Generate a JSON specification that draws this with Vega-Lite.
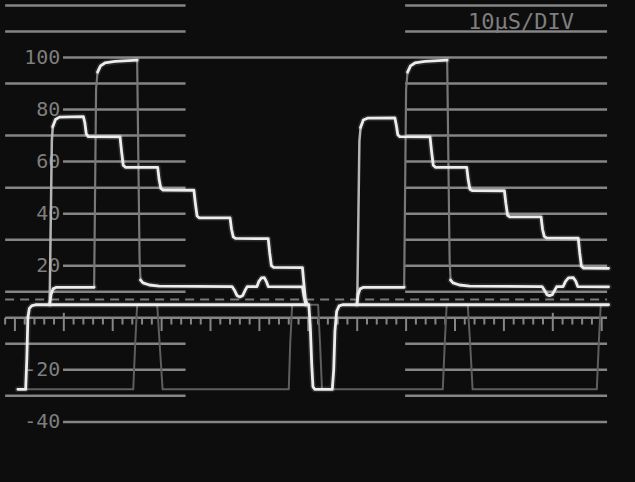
{
  "$schema": "https://vega.github.io/schema/vega-lite/v6.json",
  "width": 635,
  "height": 482,
  "autosize": {"type": "fit", "contains": "padding"},
  "padding": 0,
  "background": "#0d0d0d",
  "config": {"view": {"stroke": null}},
  "datasets": {
    "hl": [
      {"v": 120, "a": -12.0, "b": 24.9}, {"v": 110, "a": -12.0, "b": 24.9}, {"v": 90, "a": -12.0, "b": 24.9},
      {"v": 70, "a": -12.0, "b": 24.9}, {"v": 50, "a": -12.0, "b": 24.9}, {"v": 30, "a": -12.0, "b": 24.9},
      {"v": 10, "a": -12.0, "b": 24.9}, {"v": -10, "a": -12.0, "b": 24.9}, {"v": -30, "a": -12.0, "b": 24.9},
      {"v": 80, "a": -0.16, "b": 24.9}, {"v": 60, "a": -0.16, "b": 24.9}, {"v": 40, "a": -0.16, "b": 24.9},
      {"v": 20, "a": -0.16, "b": 24.9}, {"v": -20, "a": -0.16, "b": 24.9},
      {"v": 120, "a": 69.8, "b": 111.1}, {"v": 110, "a": 69.8, "b": 111.1}, {"v": 90, "a": 69.8, "b": 111.1},
      {"v": 80, "a": 69.8, "b": 111.1}, {"v": 70, "a": 69.8, "b": 111.1}, {"v": 60, "a": 69.8, "b": 111.1},
      {"v": 50, "a": 69.8, "b": 111.1}, {"v": 40, "a": 69.8, "b": 111.1}, {"v": 30, "a": 69.8, "b": 111.1},
      {"v": 20, "a": 69.8, "b": 111.1}, {"v": 10, "a": 69.8, "b": 111.1}, {"v": -10, "a": 69.8, "b": 111.1},
      {"v": -20, "a": 69.8, "b": 111.1}, {"v": -30, "a": 69.8, "b": 111.1},
      {"v": 100, "a": -0.16, "b": 111.1}, {"v": -40, "a": -0.16, "b": 111.1},
      {"v": 0, "a": -12.0, "b": 111.1}
    ],
    "tk": [
      {"t": -12, "k": "minor"}, {"t": -8, "k": "minor"}, {"t": -6, "k": "minor"}, {"t": -4, "k": "minor"}, {"t": -2, "k": "minor"},
      {"t": 2, "k": "minor"}, {"t": 4, "k": "minor"}, {"t": 6, "k": "minor"}, {"t": 8, "k": "minor"},
      {"t": 12, "k": "minor"}, {"t": 14, "k": "minor"}, {"t": 16, "k": "minor"}, {"t": 18, "k": "minor"},
      {"t": 22, "k": "minor"}, {"t": 24, "k": "minor"}, {"t": 26, "k": "minor"}, {"t": 28, "k": "minor"},
      {"t": 32, "k": "minor"}, {"t": 34, "k": "minor"}, {"t": 36, "k": "minor"}, {"t": 38, "k": "minor"},
      {"t": 42, "k": "minor"}, {"t": 44, "k": "minor"}, {"t": 46, "k": "minor"}, {"t": 48, "k": "minor"},
      {"t": 52, "k": "minor"}, {"t": 54, "k": "minor"}, {"t": 56, "k": "minor"}, {"t": 58, "k": "minor"},
      {"t": 62, "k": "minor"}, {"t": 64, "k": "minor"}, {"t": 66, "k": "minor"}, {"t": 68, "k": "minor"},
      {"t": 72, "k": "minor"}, {"t": 74, "k": "minor"}, {"t": 76, "k": "minor"}, {"t": 78, "k": "minor"},
      {"t": 82, "k": "minor"}, {"t": 84, "k": "minor"}, {"t": 86, "k": "minor"}, {"t": 88, "k": "minor"},
      {"t": 92, "k": "minor"}, {"t": 94, "k": "minor"}, {"t": 96, "k": "minor"}, {"t": 98, "k": "minor"},
      {"t": 102, "k": "minor"}, {"t": 104, "k": "minor"}, {"t": 106, "k": "minor"}, {"t": 108, "k": "minor"},
      {"t": -10, "k": "major"}, {"t": 10, "k": "major"}, {"t": 20, "k": "major"}, {"t": 30, "k": "major"},
      {"t": 40, "k": "major"}, {"t": 50, "k": "major"}, {"t": 60, "k": "major"}, {"t": 70, "k": "major"},
      {"t": 80, "k": "major"}, {"t": 90, "k": "major"}, {"t": 110, "k": "major"},
      {"t": 0, "k": "tall"}, {"t": 100, "k": "tall"}
    ],
    "lb": [
      {"v": 100, "txt": "100"}, {"v": 80, "txt": "80"}, {"v": 60, "txt": "60"}, {"v": 40, "txt": "40"},
      {"v": 20, "txt": "20"}, {"v": -20, "txt": "-20"}, {"v": -40, "txt": "-40"}
    ],
    "tr": [
      {"s": "gh", "o": 1, "t": -7.5, "v": -27.5, "k": "gh"},
      {"s": "gh", "o": 2, "t": 14.2, "v": -27.5, "k": "gh"},
      {"s": "gh", "o": 3, "t": 14.6, "v": -10, "k": "gh"},
      {"s": "gh", "o": 4, "t": 15.0, "v": 5, "k": "gh"},
      {"s": "gh", "o": 5, "t": 19.1, "v": 5, "k": "gh"},
      {"s": "gh", "o": 6, "t": 19.6, "v": -10, "k": "gh"},
      {"s": "gh", "o": 7, "t": 20.2, "v": -27.5, "k": "gh"},
      {"s": "gh", "o": 8, "t": 46.0, "v": -27.5, "k": "gh"},
      {"s": "gh", "o": 9, "t": 46.3, "v": -10, "k": "gh"},
      {"s": "gh", "o": 10, "t": 46.7, "v": 5, "k": "gh"},
      {"s": "gh", "o": 11, "t": 52.0, "v": 5, "k": "gh"},
      {"s": "gh", "o": 12, "t": 52.4, "v": -10, "k": "gh"},
      {"s": "gh", "o": 13, "t": 52.8, "v": -27.5, "k": "gh"},
      {"s": "gh", "o": 14, "t": 77.5, "v": -27.5, "k": "gh"},
      {"s": "gh", "o": 15, "t": 77.9, "v": -10, "k": "gh"},
      {"s": "gh", "o": 16, "t": 78.3, "v": 5, "k": "gh"},
      {"s": "gh", "o": 17, "t": 82.6, "v": 5, "k": "gh"},
      {"s": "gh", "o": 18, "t": 83.1, "v": -10, "k": "gh"},
      {"s": "gh", "o": 19, "t": 83.6, "v": -27.5, "k": "gh"},
      {"s": "gh", "o": 20, "t": 109.0, "v": -27.5, "k": "gh"},
      {"s": "gh", "o": 21, "t": 109.4, "v": -10, "k": "gh"},
      {"s": "gh", "o": 22, "t": 109.8, "v": 5, "k": "gh"},
      {"s": "gh", "o": 23, "t": 111.3, "v": 5, "k": "gh"},

      {"s": "blk", "o": 1, "t": -9.4, "v": -27.5, "k": "hi"},
      {"s": "blk", "o": 2, "t": -7.8, "v": -27.5, "k": "hi"},
      {"s": "blk", "o": 3, "t": -7.55, "v": -15, "k": "hi"},
      {"s": "blk", "o": 4, "t": -7.35, "v": 0, "k": "hi"},
      {"s": "blk", "o": 5, "t": -7.05, "v": 3.6, "k": "hi"},
      {"s": "blk", "o": 6, "t": -6.5, "v": 4.7, "k": "hi"},
      {"s": "blk", "o": 7, "t": -5.8, "v": 5, "k": "hi"},
      {"s": "blk", "o": 8, "t": 50.1, "v": 5, "k": "hi"},
      {"s": "blk", "o": 9, "t": 50.4, "v": -3, "k": "hi"},
      {"s": "blk", "o": 10, "t": 50.7, "v": -18, "k": "hi"},
      {"s": "blk", "o": 11, "t": 50.95, "v": -26.5, "k": "hi"},
      {"s": "blk", "o": 12, "t": 51.3, "v": -27.5, "k": "hi"},
      {"s": "blk", "o": 13, "t": 54.9, "v": -27.5, "k": "hi"},
      {"s": "blk", "o": 14, "t": 55.2, "v": -20, "k": "hi"},
      {"s": "blk", "o": 15, "t": 55.45, "v": -5, "k": "hi"},
      {"s": "blk", "o": 16, "t": 55.8, "v": 2.5, "k": "hi"},
      {"s": "blk", "o": 17, "t": 56.3, "v": 4.6, "k": "hi"},
      {"s": "blk", "o": 18, "t": 57.0, "v": 5, "k": "hi"},
      {"s": "blk", "o": 19, "t": 111.4, "v": 5, "k": "hi"},

      {"s": "LAr", "o": 1, "t": -2.9, "v": 5, "k": "mid"},
      {"s": "LAr", "o": 2, "t": -2.65, "v": 40, "k": "mid"},
      {"s": "LAr", "o": 3, "t": -2.45, "v": 68, "k": "mid"},
      {"s": "LAr", "o": 4, "t": -2.25, "v": 73.5, "k": "mid"},

      {"s": "LA", "o": 1, "t": -2.25, "v": 73.5, "k": "hi"},
      {"s": "LA", "o": 2, "t": -1.7, "v": 76.2, "k": "hi"},
      {"s": "LA", "o": 3, "t": -0.9, "v": 77.1, "k": "hi"},
      {"s": "LA", "o": 4, "t": 4.0, "v": 77.3, "k": "hi"},
      {"s": "LA", "o": 5, "t": 4.3, "v": 75, "k": "hi"},
      {"s": "LA", "o": 6, "t": 4.6, "v": 70.6, "k": "hi"},
      {"s": "LA", "o": 7, "t": 5.0, "v": 69.6, "k": "hi"},
      {"s": "LA", "o": 8, "t": 11.5, "v": 69.5, "k": "hi"},
      {"s": "LA", "o": 9, "t": 11.8, "v": 64, "k": "hi"},
      {"s": "LA", "o": 10, "t": 12.15, "v": 58.6, "k": "hi"},
      {"s": "LA", "o": 11, "t": 12.6, "v": 57.8, "k": "hi"},
      {"s": "LA", "o": 12, "t": 19.2, "v": 57.8, "k": "hi"},
      {"s": "LA", "o": 13, "t": 19.5, "v": 53, "k": "hi"},
      {"s": "LA", "o": 14, "t": 19.85, "v": 49.7, "k": "hi"},
      {"s": "LA", "o": 15, "t": 20.3, "v": 49.1, "k": "hi"},
      {"s": "LA", "o": 16, "t": 26.6, "v": 49.0, "k": "hi"},
      {"s": "LA", "o": 17, "t": 26.9, "v": 44, "k": "hi"},
      {"s": "LA", "o": 18, "t": 27.25, "v": 39.1, "k": "hi"},
      {"s": "LA", "o": 19, "t": 27.7, "v": 38.4, "k": "hi"},
      {"s": "LA", "o": 20, "t": 34.0, "v": 38.4, "k": "hi"},
      {"s": "LA", "o": 21, "t": 34.3, "v": 34, "k": "hi"},
      {"s": "LA", "o": 22, "t": 34.65, "v": 31.1, "k": "hi"},
      {"s": "LA", "o": 23, "t": 35.1, "v": 30.5, "k": "hi"},
      {"s": "LA", "o": 24, "t": 41.8, "v": 30.4, "k": "hi"},
      {"s": "LA", "o": 25, "t": 42.1, "v": 25, "k": "hi"},
      {"s": "LA", "o": 26, "t": 42.45, "v": 20, "k": "hi"},
      {"s": "LA", "o": 27, "t": 42.9, "v": 19.4, "k": "hi"},
      {"s": "LA", "o": 28, "t": 48.8, "v": 19.3, "k": "hi"},
      {"s": "LA", "o": 29, "t": 49.1, "v": 13, "k": "hi"},
      {"s": "LA", "o": 30, "t": 49.4, "v": 7, "k": "hi"},
      {"s": "LA", "o": 31, "t": 49.8, "v": 5, "k": "hi"},

      {"s": "LBi", "o": 1, "t": -2.9, "v": 5, "k": "hi"},
      {"s": "LBi", "o": 2, "t": -2.6, "v": 9, "k": "hi"},
      {"s": "LBi", "o": 3, "t": -2.2, "v": 11.1, "k": "hi"},
      {"s": "LBi", "o": 4, "t": -1.5, "v": 11.7, "k": "hi"},
      {"s": "LBi", "o": 5, "t": 6.2, "v": 11.7, "k": "hi"},

      {"s": "LBr", "o": 1, "t": 6.2, "v": 11.7, "k": "lo"},
      {"s": "LBr", "o": 2, "t": 6.4, "v": 50, "k": "lo"},
      {"s": "LBr", "o": 3, "t": 6.6, "v": 88, "k": "lo"},
      {"s": "LBr", "o": 4, "t": 6.9, "v": 94.4, "k": "lo"},

      {"s": "LBw", "o": 1, "t": 6.9, "v": 94.4, "k": "hi"},
      {"s": "LBw", "o": 2, "t": 7.5, "v": 96.8, "k": "hi"},
      {"s": "LBw", "o": 3, "t": 8.4, "v": 97.9, "k": "hi"},
      {"s": "LBw", "o": 4, "t": 10.5, "v": 98.5, "k": "hi"},
      {"s": "LBw", "o": 5, "t": 15.0, "v": 99.0, "k": "hi"},

      {"s": "LBf", "o": 1, "t": 15.0, "v": 99.0, "k": "lo"},
      {"s": "LBf", "o": 2, "t": 15.25, "v": 60, "k": "lo"},
      {"s": "LBf", "o": 3, "t": 15.5, "v": 22, "k": "lo"},
      {"s": "LBf", "o": 4, "t": 15.7, "v": 14.5, "k": "lo"},

      {"s": "LBt", "o": 1, "t": 15.7, "v": 14.5, "k": "hi"},
      {"s": "LBt", "o": 2, "t": 16.2, "v": 13.4, "k": "hi"},
      {"s": "LBt", "o": 3, "t": 17.5, "v": 12.6, "k": "hi"},
      {"s": "LBt", "o": 4, "t": 19.5, "v": 12.2, "k": "hi"},
      {"s": "LBt", "o": 5, "t": 34.4, "v": 12.0, "k": "hi"},
      {"s": "LBt", "o": 6, "t": 34.9, "v": 10.6, "k": "hi"},
      {"s": "LBt", "o": 7, "t": 35.4, "v": 8.6, "k": "hi"},
      {"s": "LBt", "o": 8, "t": 36.0, "v": 8.0, "k": "hi"},
      {"s": "LBt", "o": 9, "t": 36.6, "v": 8.6, "k": "hi"},
      {"s": "LBt", "o": 10, "t": 37.1, "v": 10.6, "k": "hi"},
      {"s": "LBt", "o": 11, "t": 37.5, "v": 12.0, "k": "hi"},
      {"s": "LBt", "o": 12, "t": 39.5, "v": 12.0, "k": "hi"},
      {"s": "LBt", "o": 13, "t": 39.9, "v": 14, "k": "hi"},
      {"s": "LBt", "o": 14, "t": 40.4, "v": 15.3, "k": "hi"},
      {"s": "LBt", "o": 15, "t": 41.0, "v": 15.4, "k": "hi"},
      {"s": "LBt", "o": 16, "t": 41.4, "v": 14, "k": "hi"},
      {"s": "LBt", "o": 17, "t": 41.8, "v": 12, "k": "hi"},
      {"s": "LBt", "o": 18, "t": 48.8, "v": 11.9, "k": "hi"},
      {"s": "LBt", "o": 19, "t": 49.1, "v": 8.5, "k": "hi"},
      {"s": "LBt", "o": 20, "t": 49.5, "v": 5, "k": "hi"},

      {"s": "RAr", "o": 1, "t": 60.0, "v": 5, "k": "mid"},
      {"s": "RAr", "o": 2, "t": 60.25, "v": 40, "k": "mid"},
      {"s": "RAr", "o": 3, "t": 60.45, "v": 68, "k": "mid"},
      {"s": "RAr", "o": 4, "t": 60.7, "v": 73.2, "k": "mid"},

      {"s": "RA", "o": 1, "t": 60.7, "v": 73.2, "k": "hi"},
      {"s": "RA", "o": 2, "t": 61.25, "v": 76, "k": "hi"},
      {"s": "RA", "o": 3, "t": 62.1, "v": 76.7, "k": "hi"},
      {"s": "RA", "o": 4, "t": 67.7, "v": 76.8, "k": "hi"},
      {"s": "RA", "o": 5, "t": 68.0, "v": 74, "k": "hi"},
      {"s": "RA", "o": 6, "t": 68.3, "v": 70.3, "k": "hi"},
      {"s": "RA", "o": 7, "t": 68.7, "v": 69.6, "k": "hi"},
      {"s": "RA", "o": 8, "t": 74.9, "v": 69.5, "k": "hi"},
      {"s": "RA", "o": 9, "t": 75.2, "v": 64, "k": "hi"},
      {"s": "RA", "o": 10, "t": 75.55, "v": 58.6, "k": "hi"},
      {"s": "RA", "o": 11, "t": 76.0, "v": 57.8, "k": "hi"},
      {"s": "RA", "o": 12, "t": 82.4, "v": 57.8, "k": "hi"},
      {"s": "RA", "o": 13, "t": 82.7, "v": 53, "k": "hi"},
      {"s": "RA", "o": 14, "t": 83.05, "v": 49.4, "k": "hi"},
      {"s": "RA", "o": 15, "t": 83.5, "v": 48.9, "k": "hi"},
      {"s": "RA", "o": 16, "t": 90.1, "v": 48.8, "k": "hi"},
      {"s": "RA", "o": 17, "t": 90.4, "v": 44, "k": "hi"},
      {"s": "RA", "o": 18, "t": 90.75, "v": 39.4, "k": "hi"},
      {"s": "RA", "o": 19, "t": 91.2, "v": 38.8, "k": "hi"},
      {"s": "RA", "o": 20, "t": 97.6, "v": 38.8, "k": "hi"},
      {"s": "RA", "o": 21, "t": 97.9, "v": 34, "k": "hi"},
      {"s": "RA", "o": 22, "t": 98.25, "v": 31.3, "k": "hi"},
      {"s": "RA", "o": 23, "t": 98.7, "v": 30.7, "k": "hi"},
      {"s": "RA", "o": 24, "t": 105.2, "v": 30.6, "k": "hi"},
      {"s": "RA", "o": 25, "t": 105.5, "v": 25, "k": "hi"},
      {"s": "RA", "o": 26, "t": 105.85, "v": 19.8, "k": "hi"},
      {"s": "RA", "o": 27, "t": 106.3, "v": 19.1, "k": "hi"},
      {"s": "RA", "o": 28, "t": 111.4, "v": 19.0, "k": "hi"},

      {"s": "RBi", "o": 1, "t": 59.9, "v": 5, "k": "hi"},
      {"s": "RBi", "o": 2, "t": 60.2, "v": 9, "k": "hi"},
      {"s": "RBi", "o": 3, "t": 60.6, "v": 11.1, "k": "hi"},
      {"s": "RBi", "o": 4, "t": 61.3, "v": 11.7, "k": "hi"},
      {"s": "RBi", "o": 5, "t": 69.6, "v": 11.7, "k": "hi"},

      {"s": "RBr", "o": 1, "t": 69.6, "v": 11.7, "k": "lo"},
      {"s": "RBr", "o": 2, "t": 69.8, "v": 50, "k": "lo"},
      {"s": "RBr", "o": 3, "t": 70.0, "v": 88, "k": "lo"},
      {"s": "RBr", "o": 4, "t": 70.3, "v": 94.4, "k": "lo"},

      {"s": "RBw", "o": 1, "t": 70.3, "v": 94.4, "k": "hi"},
      {"s": "RBw", "o": 2, "t": 70.9, "v": 96.8, "k": "hi"},
      {"s": "RBw", "o": 3, "t": 71.8, "v": 97.9, "k": "hi"},
      {"s": "RBw", "o": 4, "t": 73.9, "v": 98.5, "k": "hi"},
      {"s": "RBw", "o": 5, "t": 78.4, "v": 99.0, "k": "hi"},

      {"s": "RBf", "o": 1, "t": 78.4, "v": 99.0, "k": "lo"},
      {"s": "RBf", "o": 2, "t": 78.65, "v": 60, "k": "lo"},
      {"s": "RBf", "o": 3, "t": 78.9, "v": 22, "k": "lo"},
      {"s": "RBf", "o": 4, "t": 79.1, "v": 14.5, "k": "lo"},

      {"s": "RBt", "o": 1, "t": 79.1, "v": 14.5, "k": "hi"},
      {"s": "RBt", "o": 2, "t": 79.6, "v": 13.4, "k": "hi"},
      {"s": "RBt", "o": 3, "t": 80.9, "v": 12.6, "k": "hi"},
      {"s": "RBt", "o": 4, "t": 83.0, "v": 12.2, "k": "hi"},
      {"s": "RBt", "o": 5, "t": 97.8, "v": 12.0, "k": "hi"},
      {"s": "RBt", "o": 6, "t": 98.3, "v": 10.6, "k": "hi"},
      {"s": "RBt", "o": 7, "t": 98.8, "v": 8.9, "k": "hi"},
      {"s": "RBt", "o": 8, "t": 99.3, "v": 8.5, "k": "hi"},
      {"s": "RBt", "o": 9, "t": 99.9, "v": 8.9, "k": "hi"},
      {"s": "RBt", "o": 10, "t": 100.4, "v": 10.6, "k": "hi"},
      {"s": "RBt", "o": 11, "t": 100.8, "v": 12.0, "k": "hi"},
      {"s": "RBt", "o": 12, "t": 102.1, "v": 12.0, "k": "hi"},
      {"s": "RBt", "o": 13, "t": 102.6, "v": 14, "k": "hi"},
      {"s": "RBt", "o": 14, "t": 103.2, "v": 15.3, "k": "hi"},
      {"s": "RBt", "o": 15, "t": 104.2, "v": 15.4, "k": "hi"},
      {"s": "RBt", "o": 16, "t": 104.7, "v": 14, "k": "hi"},
      {"s": "RBt", "o": 17, "t": 105.1, "v": 12, "k": "hi"},
      {"s": "RBt", "o": 18, "t": 111.4, "v": 11.9, "k": "hi"}
    ]
  },
  "layer": [
    {
      "data": {"name": "hl"},
      "mark": {"type": "rule", "color": "#858585", "strokeWidth": 2.5},
      "encoding": {
        "x": {"field": "a", "type": "quantitative", "scale": {"domain": [-13.05, 116.81], "nice": false, "zero": false}, "axis": null},
        "x2": {"field": "b"},
        "y": {"field": "v", "type": "quantitative", "scale": {"domain": [-63.1, 122.1], "nice": false, "zero": false}, "axis": null}
      }
    },
    {
      "data": {"values": [{"v": 7.07, "a": -12.0, "b": 111.1}]},
      "mark": {"type": "rule", "color": "#7a7a7a", "strokeWidth": 2, "strokeDash": [9, 6]},
      "encoding": {
        "x": {"field": "a", "type": "quantitative", "scale": {"domain": [-13.05, 116.81], "nice": false, "zero": false}, "axis": null},
        "x2": {"field": "b"},
        "y": {"field": "v", "type": "quantitative", "scale": {"domain": [-63.1, 122.1], "nice": false, "zero": false}, "axis": null}
      }
    },
    {
      "data": {"name": "tk"},
      "transform": [{"filter": "datum.k === 'minor'"}],
      "mark": {"type": "rule", "color": "#858585", "strokeWidth": 2},
      "encoding": {
        "x": {"field": "t", "type": "quantitative", "scale": {"domain": [-13.05, 116.81], "nice": false, "zero": false}, "axis": null},
        "y": {"datum": 0, "type": "quantitative", "scale": {"domain": [-63.1, 122.1], "nice": false, "zero": false}, "axis": null},
        "y2": {"datum": -2.6}
      }
    },
    {
      "data": {"name": "tk"},
      "transform": [{"filter": "datum.k === 'major'"}],
      "mark": {"type": "rule", "color": "#858585", "strokeWidth": 2},
      "encoding": {
        "x": {"field": "t", "type": "quantitative", "scale": {"domain": [-13.05, 116.81], "nice": false, "zero": false}, "axis": null},
        "y": {"datum": 0, "type": "quantitative", "scale": {"domain": [-63.1, 122.1], "nice": false, "zero": false}, "axis": null},
        "y2": {"datum": -5.1}
      }
    },
    {
      "data": {"name": "tk"},
      "transform": [{"filter": "datum.k === 'tall'"}],
      "mark": {"type": "rule", "color": "#858585", "strokeWidth": 2},
      "encoding": {
        "x": {"field": "t", "type": "quantitative", "scale": {"domain": [-13.05, 116.81], "nice": false, "zero": false}, "axis": null},
        "y": {"datum": 1.9, "type": "quantitative", "scale": {"domain": [-63.1, 122.1], "nice": false, "zero": false}, "axis": null},
        "y2": {"datum": -5.1}
      }
    },
    {
      "data": {"name": "lb"},
      "mark": {"type": "text", "color": "#7e7e7e", "font": "DejaVu Sans Mono", "fontSize": 20, "align": "right", "baseline": "middle"},
      "encoding": {
        "x": {"datum": -0.7, "type": "quantitative", "scale": {"domain": [-13.05, 116.81], "nice": false, "zero": false}, "axis": null},
        "y": {"field": "v", "type": "quantitative", "scale": {"domain": [-63.1, 122.1], "nice": false, "zero": false}, "axis": null},
        "text": {"field": "txt"}
      }
    },
    {
      "data": {"values": [{"txt": "10µS/DIV"}]},
      "mark": {"type": "text", "color": "#7e7e7e", "font": "DejaVu Sans Mono", "fontSize": 22, "align": "center", "baseline": "middle"},
      "encoding": {
        "x": {"datum": 93.5, "type": "quantitative", "scale": {"domain": [-13.05, 116.81], "nice": false, "zero": false}, "axis": null},
        "y": {"datum": 113.6, "type": "quantitative", "scale": {"domain": [-63.1, 122.1], "nice": false, "zero": false}, "axis": null},
        "text": {"field": "txt"}
      }
    },
    {
      "data": {"name": "tr"},
      "transform": [{"filter": "datum.k === 'gh'"}],
      "mark": {"type": "line", "color": "#5e5e5e", "strokeWidth": 2, "strokeCap": "round", "strokeJoin": "round"},
      "encoding": {
        "x": {"field": "t", "type": "quantitative", "scale": {"domain": [-13.05, 116.81], "nice": false, "zero": false}, "axis": null},
        "y": {"field": "v", "type": "quantitative", "scale": {"domain": [-63.1, 122.1], "nice": false, "zero": false}, "axis": null},
        "detail": {"field": "s"},
        "order": {"field": "o"}
      }
    },
    {
      "data": {"name": "tr"},
      "transform": [{"filter": "datum.k === 'lo'"}],
      "mark": {"type": "line", "color": "#777777", "strokeWidth": 2.2, "strokeCap": "round", "strokeJoin": "round"},
      "encoding": {
        "x": {"field": "t", "type": "quantitative", "scale": {"domain": [-13.05, 116.81], "nice": false, "zero": false}, "axis": null},
        "y": {"field": "v", "type": "quantitative", "scale": {"domain": [-63.1, 122.1], "nice": false, "zero": false}, "axis": null},
        "detail": {"field": "s"},
        "order": {"field": "o"}
      }
    },
    {
      "data": {"name": "tr"},
      "transform": [{"filter": "datum.k === 'mid'"}],
      "mark": {"type": "line", "color": "#b4b4b4", "strokeWidth": 2.5, "strokeCap": "round", "strokeJoin": "round"},
      "encoding": {
        "x": {"field": "t", "type": "quantitative", "scale": {"domain": [-13.05, 116.81], "nice": false, "zero": false}, "axis": null},
        "y": {"field": "v", "type": "quantitative", "scale": {"domain": [-63.1, 122.1], "nice": false, "zero": false}, "axis": null},
        "detail": {"field": "s"},
        "order": {"field": "o"}
      }
    },
    {
      "data": {"name": "tr"},
      "transform": [{"filter": "datum.k === 'hi'"}],
      "mark": {"type": "line", "color": "#ffffff", "strokeWidth": 6, "opacity": 0.12, "strokeCap": "round", "strokeJoin": "round"},
      "encoding": {
        "x": {"field": "t", "type": "quantitative", "scale": {"domain": [-13.05, 116.81], "nice": false, "zero": false}, "axis": null},
        "y": {"field": "v", "type": "quantitative", "scale": {"domain": [-63.1, 122.1], "nice": false, "zero": false}, "axis": null},
        "detail": {"field": "s"},
        "order": {"field": "o"}
      }
    },
    {
      "data": {"name": "tr"},
      "transform": [{"filter": "datum.k === 'hi'"}],
      "mark": {"type": "line", "color": "#ededed", "strokeWidth": 2.8, "strokeCap": "round", "strokeJoin": "round"},
      "encoding": {
        "x": {"field": "t", "type": "quantitative", "scale": {"domain": [-13.05, 116.81], "nice": false, "zero": false}, "axis": null},
        "y": {"field": "v", "type": "quantitative", "scale": {"domain": [-63.1, 122.1], "nice": false, "zero": false}, "axis": null},
        "detail": {"field": "s"},
        "order": {"field": "o"}
      }
    }
  ]
}
